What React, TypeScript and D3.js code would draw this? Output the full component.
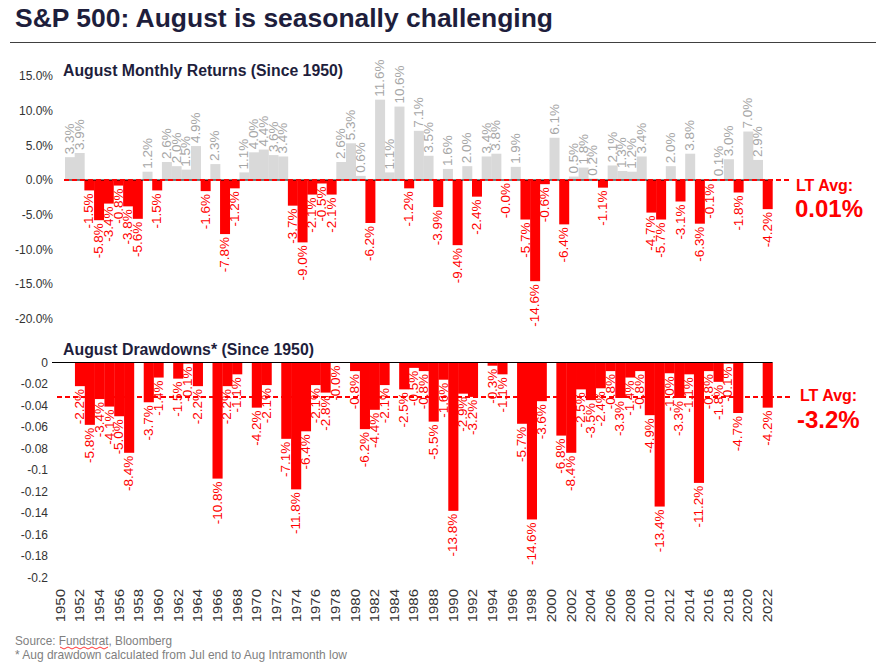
import React from "react";
import * as d3 from "d3";

const years: number[] = [
  1950, 1951, 1952, 1953, 1954, 1955, 1956, 1957, 1958, 1959,
  1960, 1961, 1962, 1963, 1964, 1965, 1966, 1967, 1968, 1969,
  1970, 1971, 1972, 1973, 1974, 1975, 1976, 1977, 1978, 1979,
  1980, 1981, 1982, 1983, 1984, 1985, 1986, 1987, 1988, 1989,
  1990, 1991, 1992, 1993, 1994, 1995, 1996, 1997, 1998, 1999,
  2000, 2001, 2002, 2003, 2004, 2005, 2006, 2007, 2008, 2009,
  2010, 2011, 2012, 2013, 2014, 2015, 2016, 2017, 2018, 2019,
  2020, 2021, 2022,
];

// August monthly returns (%)
const augustReturns: number[] = [
  3.3, 3.9, -1.5, -5.8, -3.4, -0.8, -3.8, -5.6, 1.2, -1.5,
  2.6, 2.0, 1.5, 4.9, -1.6, 2.3, -7.8, -1.2, 1.1, 4.0,
  4.4, 3.6, 3.4, -3.7, -9.0, -2.1, -0.5, -2.1, 2.6, 5.3,
  0.6, -6.2, 11.6, 1.1, 10.6, -1.2, 7.1, 3.5, -3.9, 1.6,
  -9.4, 2.0, -2.4, 3.4, 3.8, -0.0, 1.9, -5.7, -14.6, -0.6,
  6.1, -6.4, 0.5, 1.8, 0.2, -1.1, 2.1, 1.3, 1.2, 3.4,
  -4.7, -5.7, 2.0, -3.1, 3.8, -6.3, -0.1, 0.1, 3.0, -1.8,
  7.0, 2.9, -4.2,
];

// August drawdowns (%), null = no drawdown bar
const augustDrawdowns: (number | null)[] = [
  null, null, -2.2, -5.8, -3.4, -4.1, -5.0, -8.4, null, -3.7,
  -1.4, null, -1.5, -0.1, -2.2, null, -10.8, -2.2, -1.1, null,
  -4.2, -2.1, null, -7.1, -11.8, -6.4, -2.1, -2.8, -0.0, null,
  -0.8, -6.2, -4.4, -2.1, null, -2.5, -0.5, -0.8, -5.5, -1.6,
  -13.8, -2.9, -3.2, null, -0.3, -1.1, null, -5.7, -14.6, -3.6,
  null, -6.8, -8.4, -2.5, -3.5, -2.4, -0.8, -3.3, -1.4, -0.8,
  -4.9, -13.4, -1.0, -3.3, -1.1, -11.2, -0.8, -1.8, -0.1, -4.7,
  null, null, -4.2,
];

const returnTicks: number[] = [15, 10, 5, 0, -5, -10, -15, -20];
const returnTickLabels: string[] = ["15.0%", "10.0%", "5.0%", "0.0%", "-5.0%", "-10.0%", "-15.0%", "-20.0%"];
const drawdownTicks: number[] = [0, -0.02, -0.04, -0.06, -0.08, -0.1, -0.12, -0.14, -0.16, -0.18, -0.2];
const drawdownTickLabels: string[] = ["0", "-0.02", "-0.04", "-0.06", "-0.08", "-0.1", "-0.12", "-0.14", "-0.16", "-0.18", "-0.2"];
const yearTickLabels: number[] = years.filter((y) => y % 2 === 0);

const returnAvg = 0.01;
const returnAvgLabel = "0.01%";
const drawdownAvg = -3.2;
const drawdownAvgLabel = "-3.2%";

const RED = "#ff0000";
const GREY_BAR = "#d9d9d9";
const GREY_TXT = "#a6a6a6";
const NAVY = "#1e1e3c";
const FONT = "'Liberation Sans', Arial, sans-serif";
const NARROW = "'Liberation Sans Narrow', 'Liberation Sans', Arial, sans-serif";

const isNeg = (v: number) => v < 0 || Object.is(v, -0);
const fmt = (v: number) => (isNeg(v) ? "-" : "") + Math.abs(v).toFixed(1) + "%";

export default function App() {
  const W = 876, H = 668;
  const topX = d3.scaleBand<number>().domain(years).range([65, 772.4]).padding(0);
  const botX = d3.scaleBand<number>().domain(years).range([55.3, 772.5]).padding(0);
  const topY = d3.scaleLinear().domain([-20, 15]).range([318.6, 76.1]);
  const botY = d3.scaleLinear().domain([-0.2, 0]).range([577.5, 362.5]);
  const tbw = topX.bandwidth();
  const bbw = botX.bandwidth();
  const y0 = topY(0);
  const by0 = botY(0);
  const LBL = "rotate(-90) scale(1.12,1)";

  return (
    <svg width={W} height={H} style={{ position: "absolute", left: 0, top: 0, background: "#fff" }} fontFamily={FONT}>
      <rect x={0} y={0} width={W} height={H} fill="#fff" />
      {/* Title */}
      <text x={15} y={27} fontSize={26} fontWeight="bold" fill={NAVY} fontFamily={NARROW} textLength={538} lengthAdjust="spacingAndGlyphs">
        S&amp;P 500: August is seasonally challenging
      </text>
      <line x1={10} x2={876} y1={42.5} y2={42.5} stroke="#404040" strokeWidth={1} />

      {/* ---------- Top panel ---------- */}
      <text x={63} y={76} fontSize={16} fontWeight="bold" fill={NAVY} fontFamily={NARROW} textLength={280} lengthAdjust="spacingAndGlyphs">
        August Monthly Returns (Since 1950)
      </text>
      {returnTicks.map((t, i) => (
        <text key={"rt" + t} x={53} y={topY(t)} dy="0.35em" textAnchor="end" fontSize={12} fill="#333">
          {returnTickLabels[i]}
        </text>
      ))}
      {years.map((yr, i) => {
        const v = augustReturns[i];
        const neg = isNeg(v);
        const yv = topY(v);
        return (
          <rect key={"rb" + yr} x={topX(yr)!} width={tbw + 0.3} y={Math.min(yv, y0)} height={Math.abs(yv - y0)} fill={neg ? RED : GREY_BAR} />
        );
      })}
      <line x1={64} x2={772.4} y1={y0} y2={y0} stroke="#000" strokeWidth={1} />
      <line x1={64} x2={792} y1={topY(returnAvg)} y2={topY(returnAvg)} stroke={RED} strokeWidth={2} strokeDasharray="5,3" />
      {years.map((yr, i) => {
        const v = augustReturns[i];
        const neg = isNeg(v);
        const xc = topX(yr)! + tbw / 2;
        const yv = topY(v);
        return (
          <text key={"rl" + yr} transform={`translate(${xc},${neg ? yv + 3 : yv - 3}) ${LBL}`} textAnchor={neg ? "end" : "start"} dy="0.35em" fontSize={12} fill={neg ? RED : GREY_TXT}>
            {fmt(v)}
          </text>
        );
      })}
      <text x={796} y={191} fontSize={16} fontWeight="bold" fill={RED}>LT Avg:</text>
      <text x={795} y={217} fontSize={24} fontWeight="bold" fill={RED}>{returnAvgLabel}</text>

      {/* ---------- Bottom panel ---------- */}
      <text x={63} y={355} fontSize={16} fontWeight="bold" fill={NAVY} fontFamily={NARROW} textLength={251} lengthAdjust="spacingAndGlyphs">
        August Drawdowns* (Since 1950)
      </text>
      {drawdownTicks.map((t, i) => (
        <text key={"dt" + t} x={48} y={botY(t)} dy="0.35em" textAnchor="end" fontSize={12} fill="#333">
          {drawdownTickLabels[i]}
        </text>
      ))}
      {years.map((yr, i) => {
        const v = augustDrawdowns[i];
        if (v === null) return null;
        const yv = botY(v / 100);
        return <rect key={"db" + yr} x={botX(yr)!} width={bbw + 0.3} y={by0} height={yv - by0} fill={RED} />;
      })}
      <line x1={52} x2={772.5} y1={by0} y2={by0} stroke="#000" strokeWidth={1.2} />
      <line x1={57} x2={792} y1={botY(drawdownAvg / 100)} y2={botY(drawdownAvg / 100)} stroke={RED} strokeWidth={2} strokeDasharray="5,3" />
      {years.map((yr, i) => {
        const v = augustDrawdowns[i];
        if (v === null) return null;
        const xc = botX(yr)! + bbw / 2;
        const yv = botY(v / 100);
        return (
          <text key={"dl" + yr} transform={`translate(${xc},${yv + 3}) ${LBL}`} textAnchor="end" dy="0.35em" fontSize={12} fill={RED}>
            {fmt(v)}
          </text>
        );
      })}
      <text x={800} y={401} fontSize={16} fontWeight="bold" fill={RED}>LT Avg:</text>
      <text x={797} y={428} fontSize={24} fontWeight="bold" fill={RED}>{drawdownAvgLabel}</text>

      {/* x axis year labels */}
      {yearTickLabels.map((yr) => (
        <text key={"yl" + yr} transform={`translate(${botX(yr)! + bbw / 2},${589}) rotate(-90) scale(1.15,1)`} textAnchor="end" dy="0.35em" fontSize={13} fill="#333">
          {yr}
        </text>
      ))}

      {/* Footer */}
      <text x={15} y={645} fontSize={13} fill="#7f7f7f" fontFamily={NARROW} textLength={157} lengthAdjust="spacingAndGlyphs">
        Source: Fundstrat, Bloomberg
      </text>
      <path d={d3.range(0, 13).map((k) => `${k === 0 ? "M" : "L"}${60 + k * 4},${k % 2 === 0 ? 647 : 649}`).join("")} fill="none" stroke={RED} strokeWidth={0.8} />
      <text x={15} y={659} fontSize={13} fill="#7f7f7f" fontFamily={NARROW} textLength={332} lengthAdjust="spacingAndGlyphs">
        * Aug drawdown calculated from Jul end to Aug Intramonth low
      </text>
    </svg>
  );
}
